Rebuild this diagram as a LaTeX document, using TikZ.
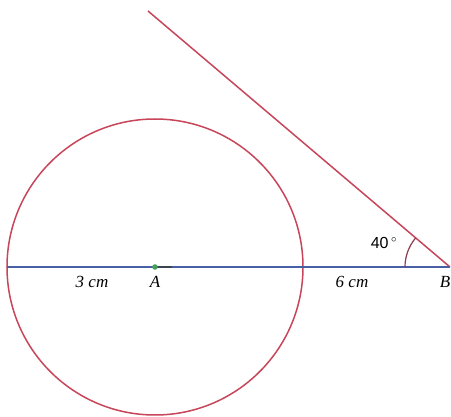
\documentclass[tikz,border=0pt]{standalone}
\usepackage{fontspec}
\setmainfont{Liberation Serif}
\newfontfamily\sansf{Liberation Sans}
\definecolor{cred}{RGB}{200,70,90}
\definecolor{cblue}{RGB}{70,95,165}
\definecolor{cdark}{RGB}{60,70,80}
\definecolor{carc}{RGB}{140,60,80}
\definecolor{cgreen}{RGB}{70,160,90}
\begin{document}
\begin{tikzpicture}[x=1pt,y=-1pt,
  redline/.style={draw=cred,line width=1.5pt},
  blueline/.style={draw=cblue,line width=1.5pt},
  lbl/.style={font=\itshape\fontsize{17}{17}\selectfont,inner sep=0pt}]
\useasboundingbox (0,0) rectangle (451,417);
\fill[white] (0,0) rectangle (451,417);
\coordinate (A) at (155,267);
\coordinate (B) at (450,267);
\coordinate (L) at (7,267);
\coordinate (T) at (148,11);
\draw[redline] (A) circle (148);
\draw[redline] (B) -- (T);
\draw[blueline] (L) -- (B);
\draw[line width=1.6pt,cdark] (A) -- ++(17,0);
\fill[cgreen] (A) circle (2.8);
\draw[line width=1.2pt,carc] ([shift={(180:45)}]B) arc[start angle=180,end angle=220.5,radius=45];
\node[lbl] (la) at (155,282) {A};
\node[lbl,anchor=east] (lb) at (450.5,282) {B};
\node[lbl] (l3) at (92,282) {3 cm};
\node[lbl] (l6) at (352,282) {6 cm};
\node[font=\sansf\fontsize{16}{16}\selectfont,inner sep=0pt] (ang) at (384,243) {40\,$^{\circ}$};
\end{tikzpicture}
\end{document}
